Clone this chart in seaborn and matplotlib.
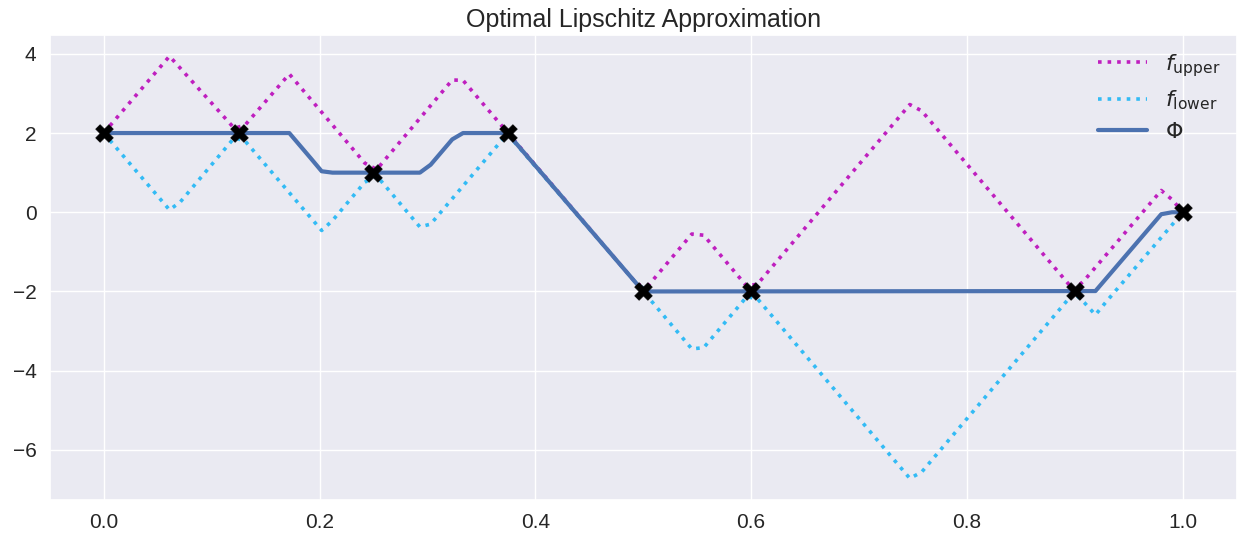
import matplotlib
matplotlib.use("Agg")
import matplotlib.pyplot as plt
import seaborn as sns
import pandas as pd

# Data points
pts_x = [0.0, 0.125, 0.25, 0.375, 0.5, 0.6, 0.9, 1.0]
pts_y = [2.0, 2.0, 1.0, 2.0, -2.0, -2.0, -2.0, 0.0]

# Upper envelope vertices
upper_x = [0.0, 0.061, 0.121, 0.131, 0.172, 0.242, 0.253, 0.323, 0.333, 0.374,
           0.495, 0.505, 0.545, 0.556, 0.596, 0.606, 0.747, 0.758, 0.899, 0.909,
           0.980, 0.990, 1.0]
upper_y = [2.0, 3.94, 2.12, 2.2, 3.49, 1.24, 1.08, 3.34, 3.33, 2.02,
           -1.84, -1.84, -0.55, -0.58, -1.87, -1.81, 2.72, 2.56, -1.97, -1.71,
           0.55, 0.32, 0.0]

# Lower envelope vertices
lower_x = [0.0, 0.061, 0.071, 0.121, 0.131, 0.202, 0.212, 0.242, 0.253, 0.293,
           0.303, 0.374, 0.495, 0.505, 0.545, 0.556, 0.596, 0.606, 0.747, 0.758,
           0.899, 0.909, 0.919, 0.929, 1.0]
lower_y = [2.0, 0.06, 0.26, 1.88, 1.8, -0.46, -0.21, 0.76, 0.92, -0.37,
           -0.30, 1.98, -1.84, -2.16, -3.45, -3.42, -2.13, -2.19, -6.72, -6.56,
           -2.03, -2.29, -2.59, -2.26, 0.0]

# Phi vertices
phi_x = [0.0, 0.172, 0.182, 0.192, 0.202, 0.212, 0.293, 0.303, 0.323, 0.333,
         0.374, 0.495, 0.505, 0.919, 0.980, 0.990, 1.0]
phi_y = [2.0, 2.0, 1.68, 1.36, 1.035, 1.0, 1.0, 1.2, 1.84, 2.0,
         2.0, -1.84, -2.0, -1.99, -0.05, 0.0, 0.0]

sns.set_theme(style="darkgrid")
plt.rcParams['font.family'] = ['Liberation Sans', 'DejaVu Sans']
plt.rcParams['mathtext.fontset'] = 'dejavusans'

fig, ax = plt.subplots(figsize=(12.43, 5.4), dpi=100)

df_u = pd.DataFrame({"x": upper_x, "y": upper_y})
df_l = pd.DataFrame({"x": lower_x, "y": lower_y})
df_p = pd.DataFrame({"x": phi_x, "y": phi_y})

sns.lineplot(data=df_u, x="x", y="y", ax=ax, color="#bf1fbf", linestyle=":",
             linewidth=2.6, label=r"$f_{\mathrm{upper}}$", sort=False)
sns.lineplot(data=df_l, x="x", y="y", ax=ax, color="#33bbf5", linestyle=":",
             linewidth=2.6, label=r"$f_{\mathrm{lower}}$", sort=False)
sns.lineplot(data=df_p, x="x", y="y", ax=ax, color="#4c72b0",
             linewidth=3, label=r"$\Phi$", sort=False)
ax.scatter(pts_x, pts_y, marker="X", s=160, color="black", edgecolor="black",
           linewidth=0.5, zorder=5)

ax.set_xlabel("")
ax.set_ylabel("")
ax.set_title("Optimal Lipschitz Approximation", fontsize=18)
ax.tick_params(labelsize=15, labelcolor="#262626")
ax.legend(loc="upper right", frameon=False, fontsize=16, borderaxespad=0.35,
          labelspacing=0.45, handlelength=2.2)

fig.subplots_adjust(left=0.04, right=0.995, top=0.935, bottom=0.075)
fig.savefig("out.png", dpi=100)
